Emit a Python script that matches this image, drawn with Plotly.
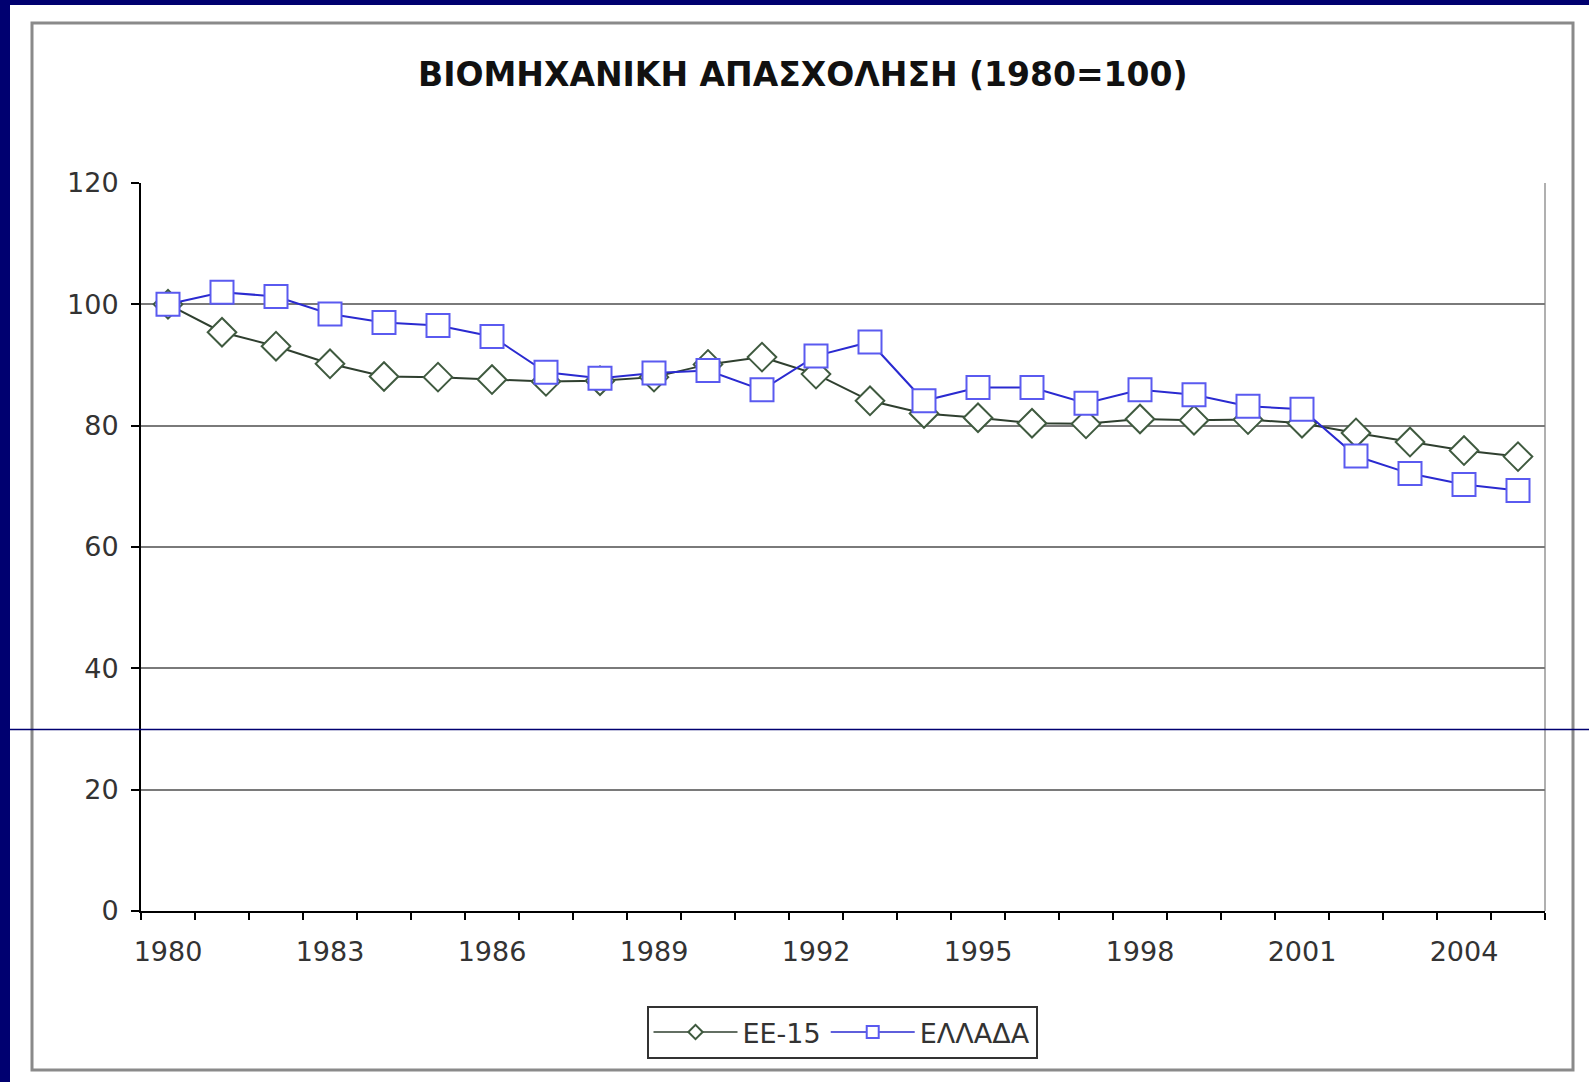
import plotly.graph_objects as go

years = list(range(1980, 2006))
ee15 = [100, 95.4, 93.1, 90.2, 88.1, 88.0, 87.6, 87.3, 87.4, 88.0, 90.1, 91.3, 88.5,
        84.1, 82.0, 81.3, 80.4, 80.3, 81.1, 80.9, 81.0, 80.4, 78.8, 77.3, 75.9, 74.9]
greece = [100, 102.0, 101.3, 98.4, 97.0, 96.5, 94.7, 88.8, 87.8, 88.7, 89.1, 85.9, 91.5,
          93.8, 84.1, 86.3, 86.3, 83.7, 85.9, 85.1, 83.2, 82.7, 75.0, 72.1, 70.3, 69.3]
series_names = ["ΕΕ-15", "ΕΛΛΑΔΑ"]
title_text = "ΒΙΟΜΗΧΑΝΙΚΗ ΑΠΑΣΧΟΛΗΣΗ (1980=100)"

W, H = 1589, 1082
L, R, T, B = 141, 1545, 183, 911  # plot area in pixels
PW, PH = R - L, B - T


def px(x):
    return (x - L) / PW


def py(y):
    return (B - y) / PH


NAVY = "#000070"
FONT = "DejaVu Sans"

styles = [
    dict(line=dict(color="#2f3f2f", width=2), symbol="diamond", mline="#3f5a3f", size=22),
    dict(line=dict(color="#2a2ad0", width=2), symbol="square", mline="#5a5af0", size=23),
]

fig = go.Figure()
for name, vals, st in zip(series_names, [ee15, greece], styles):
    fig.add_trace(go.Scatter(
        x=years, y=vals, name=name, mode="lines+markers", showlegend=False,
        line=st["line"],
        marker=dict(symbol=st["symbol"], size=st["size"], color="white",
                    line=dict(color=st["mline"], width=2)),
    ))
# legend entries (thin line, small marker like the original)
for name, st in zip(series_names, styles):
    fig.add_trace(go.Scatter(
        x=[None], y=[None], name=name, mode="lines+markers", showlegend=True,
        line=dict(color=st["line"]["color"], width=1.5),
        marker=dict(symbol=st["symbol"], size=12 if st["symbol"] == "square" else 11,
                    color="white", line=dict(color=st["mline"], width=2)),
    ))

shapes = [
    dict(type="rect", xref="paper", yref="paper", x0=px(10), x1=px(W + 5),
         y0=py(H + 5), y1=py(5), fillcolor="white", line=dict(width=0), layer="below"),
    dict(type="rect", xref="paper", yref="paper", x0=px(32), x1=px(1573),
         y0=py(1070), y1=py(23), fillcolor="white",
         line=dict(color="#8a8a8a", width=3), layer="below"),
    dict(type="line", xref="paper", yref="paper", x0=1, x1=1, y0=0, y1=1,
         line=dict(color="#b0b0b0", width=2), layer="below"),
    dict(type="line", xref="paper", yref="paper", x0=px(10), x1=px(W + 5),
         y0=py(729.5), y1=py(729.5), line=dict(color=NAVY, width=1.5), layer="above"),
]

fig.update_layout(
    width=W, height=H,
    margin=dict(l=L, r=W - R, t=T, b=H - B, pad=0),
    paper_bgcolor=NAVY,
    plot_bgcolor="white",
    font=dict(family=FONT, color="#333333", size=27),
    showlegend=True,
    legend=dict(
        orientation="h", x=px(842), xanchor="center", y=py(1006), yanchor="top",
        bgcolor="white", bordercolor="#333333", borderwidth=2,
        font=dict(family=FONT, size=27, color="#333333"),
        itemwidth=84, itemsizing="trace", traceorder="normal",
    ),
    shapes=shapes,
    annotations=[dict(
        text="<b>" + title_text + "</b>", xref="paper", yref="paper",
        x=px(803), y=py(74), xanchor="center", yanchor="middle", showarrow=False,
        font=dict(family=FONT, size=33, color="#111111"),
    )],
)

fig.update_xaxes(
    range=[1979.5, 2005.5], tickmode="linear", tick0=1980, dtick=3,
    showgrid=False, zeroline=False,
    showline=True, linecolor="black", linewidth=2,
    ticks="", ticklabelstandoff=16,
    tickfont=dict(family=FONT, size=27, color="#333333"),
    minor=dict(ticks="outside", tick0=1979.5, dtick=1, ticklen=7,
               tickwidth=2, tickcolor="black", showgrid=False),
)
fig.update_yaxes(
    range=[0, 120], tickmode="linear", tick0=0, dtick=20,
    showgrid=True, gridcolor="#7a7a7a", gridwidth=2, zeroline=False,
    showline=True, linecolor="black", linewidth=2,
    ticks="outside", ticklen=8, tickwidth=2, tickcolor="black",
    ticklabelstandoff=7,
    tickfont=dict(family=FONT, size=27, color="#333333"),
)

fig.write_html(
    "out.html",
    config={"displayModeBar": False},
    post_script="document.body.style.margin='0';document.body.style.overflow='hidden';",
)
